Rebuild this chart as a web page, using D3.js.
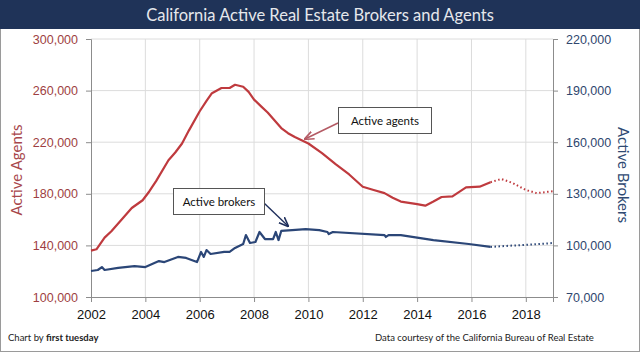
<!DOCTYPE html>
<html>
<head>
<meta charset="utf-8">
<script src="https://cdn.jsdelivr.net/npm/d3@7"></script>
<style>
  body { margin: 0; background: #fff; }
  svg { display: block; font-family: Lato, "Open Sans", sans-serif; }
</style>
</head>
<body>
<div id="chart"></div>
<script>
// Active agents, solid part (left axis)
const agentYears = [2002.0, 2002.2, 2002.5, 2002.75, 2003.0, 2003.25, 2003.5, 2003.9, 2004.15, 2004.4, 2004.85, 2005.1, 2005.35, 2005.6,
  2006.0, 2006.25, 2006.45, 2006.8, 2007.1, 2007.3, 2007.6, 2007.8, 2008.0, 2008.25, 2008.5, 2008.75, 2009.0, 2009.25, 2009.5, 2010.0, 2010.5,
  2011.0, 2011.5, 2012.0, 2012.4, 2012.8, 2013.1, 2013.4, 2014.0, 2014.3, 2014.6, 2014.9, 2015.3, 2015.8, 2016.3, 2016.7];
const agentValues = [136000, 137000, 146000, 151000, 157000, 163000, 169000, 175000, 182000, 190000, 206000, 212000, 219000, 229000,
  244000, 252000, 258000, 262000, 262000, 264500, 263000, 259000, 253000, 248000, 243000, 237000, 231000, 227000, 224000, 219000, 211500,
  203000, 195000, 185500, 183000, 180500, 177000, 174000, 172000, 170800, 174000, 177500, 178000, 185000, 185500, 189000];
// Active agents, projection (dotted)
const agentProjYears = [2016.7, 2017.1, 2017.5, 2018.0, 2018.4, 2018.8, 2019.0];
const agentProjValues = [189000, 191500, 188500, 183000, 180500, 181500, 182000];

// Active brokers, solid part (right axis)
const brokerYears = [2002.0, 2002.25, 2002.4, 2002.5, 2003.0, 2003.6, 2004.0, 2004.5, 2004.7, 2005.2,
  2005.5, 2005.7, 2005.9, 2006.05, 2006.15, 2006.25, 2006.4, 2006.9, 2007.1, 2007.3, 2007.6, 2007.7,
  2007.85, 2008.05, 2008.2, 2008.4, 2008.7, 2008.8, 2008.9, 2009.0, 2009.4, 2009.9, 2010.4, 2010.7,
  2010.75, 2010.9, 2012.8, 2012.85, 2012.95, 2013.4, 2014.6, 2015.9, 2016.7];
const brokerValues = [85100, 85700, 87400, 85700, 86900, 88000, 87400, 90900, 90300, 93300,
  92700, 91500, 90300, 96200, 93300, 97300, 95000, 96200, 96200, 98500, 100800, 106000,
  101400, 102000, 107800, 103700, 103700, 107800, 103100, 108400, 108900, 109500, 108900, 107800,
  106600, 107800, 106000, 104900, 106000, 106000, 103100, 100800, 99100];
const brokerProjYears = [2016.7, 2017.3, 2018.5, 2019.0];
const brokerProjValues = [99100, 99700, 100800, 101400];

const yearTicks = [2002, 2004, 2006, 2008, 2010, 2012, 2014, 2016, 2018];
const agentTicks = [100000, 140000, 180000, 220000, 260000, 300000];
const brokerTicks = [70000, 100000, 130000, 160000, 190000, 220000];

const W = 640, H = 352;
const margin = {top: 39, right: 87, bottom: 55, left: 91};
const iw = W - margin.left - margin.right, ih = H - margin.top - margin.bottom;

const red = "#bf3a3e", blue = "#2b4677";

const svg = d3.select("#chart").append("svg").attr("width", W).attr("height", H);

// frame + title bar
svg.append("rect").attr("x", 0.5).attr("y", 0.5).attr("width", W - 1).attr("height", H - 1)
  .attr("fill", "#fff").attr("stroke", "#9a9a9a");
svg.append("rect").attr("x", 0).attr("y", 0).attr("width", W).attr("height", 29).attr("fill", "#1f3358");
svg.append("text").attr("x", W / 2).attr("y", 20.5).attr("text-anchor", "middle")
  .attr("fill", "#e6e8ec").style("font-size", "16.5px").text("California Active Real Estate Brokers and Agents");

const x = d3.scaleLinear().domain([2002, 2019]).range([0, iw]);
const yL = d3.scaleLinear().domain([100000, 300000]).range([ih, 0]);
const yR = d3.scaleLinear().domain([70000, 220000]).range([ih, 0]);

const g = svg.append("g").attr("transform", `translate(${margin.left},${margin.top})`);

// grid
g.append("g").selectAll("line").data(agentTicks.slice(1)).join("line")
  .attr("x1", 0).attr("x2", iw).attr("y1", d => yL(d)).attr("y2", d => yL(d))
  .attr("stroke", "#dcdcdc");
g.append("g").selectAll("line").data(yearTicks.slice(1)).join("line")
  .attr("y1", 0).attr("y2", ih).attr("x1", d => x(d)).attr("x2", d => x(d))
  .attr("stroke", "#dcdcdc");

const fmt = d3.format(",");

const axL = g.append("g").call(d3.axisLeft(yL).tickValues(agentTicks).tickFormat(fmt).tickSize(5).tickPadding(8));
axL.selectAll("text").attr("fill", "#9e3f42").style("font-size", "12.5px");

const axR = g.append("g").attr("transform", `translate(${iw},0)`)
  .call(d3.axisRight(yR).tickValues(brokerTicks).tickFormat(fmt).tickSize(5).tickPadding(8));
axR.selectAll("text").attr("fill", "#2f466e").style("font-size", "12.5px");

const axB = g.append("g").attr("transform", `translate(0,${ih})`)
  .call(d3.axisBottom(x).tickValues(yearTicks).tickFormat(d3.format("d")).tickSize(5).tickPadding(8));
axB.selectAll("text").attr("fill", "#111").style("font-size", "13px");

[axL, axR, axB].forEach(a => {
  a.selectAll(".domain").attr("stroke", "#8c8c8c");
  a.selectAll(".tick line").attr("stroke", "#8c8c8c");
});

// axis titles
svg.append("text").attr("transform", "translate(22,170) rotate(-90)").attr("text-anchor", "middle")
  .attr("fill", "#a8474b").style("font-size", "15px").text("Active Agents");
svg.append("text").attr("transform", "translate(618,175) rotate(90)").attr("text-anchor", "middle")
  .attr("fill", "#2f4a72").style("font-size", "15px").text("Active Brokers");

const lineL = d3.line().x(d => x(d[0])).y(d => yL(d[1]));
const lineR = d3.line().x(d => x(d[0])).y(d => yR(d[1]));

g.append("path").datum(d3.zip(agentProjYears, agentProjValues)).attr("d", lineL)
  .attr("fill", "none").attr("stroke", red).attr("stroke-width", 2).attr("stroke-dasharray", "1.5,2.5");
g.append("path").datum(d3.zip(brokerProjYears, brokerProjValues)).attr("d", lineR)
  .attr("fill", "none").attr("stroke", blue).attr("stroke-width", 2).attr("stroke-dasharray", "1.5,2.5");
g.append("path").datum(d3.zip(agentYears, agentValues)).attr("d", lineL)
  .attr("fill", "none").attr("stroke", red).attr("stroke-width", 2.2).attr("stroke-linejoin", "round");
g.append("path").datum(d3.zip(brokerYears, brokerValues)).attr("d", lineR)
  .attr("fill", "none").attr("stroke", blue).attr("stroke-width", 2.2).attr("stroke-linejoin", "round");

// callouts
const defs = svg.append("defs");
[["arrRed", "#b45a64"], ["arrBlue", "#1f2f5c"]].forEach(([id, c]) => {
  defs.append("marker").attr("id", id).attr("viewBox", "0 0 10 10").attr("refX", 9).attr("refY", 5)
    .attr("markerWidth", 7).attr("markerHeight", 7).attr("orient", "auto")
    .append("path").attr("d", "M0,1 L10,5 L0,9").attr("fill", "none").attr("stroke", c).attr("stroke-width", 1.6);
});

function callout(bx, by, bw, bh, label, ax1, ay1, ax2, ay2, col, marker) {
  svg.append("line").attr("x1", ax1).attr("y1", ay1).attr("x2", ax2).attr("y2", ay2)
    .attr("stroke", col).attr("stroke-width", 1.4).attr("marker-end", `url(#${marker})`);
  svg.append("rect").attr("x", bx).attr("y", by).attr("width", bw).attr("height", bh)
    .attr("fill", "#fff").attr("stroke", "#555").attr("stroke-width", 1);
  svg.append("text").attr("x", bx + bw / 2).attr("y", by + bh / 2 + 4).attr("text-anchor", "middle")
    .attr("fill", "#111").style("font-size", "11.5px").text(label);
}
callout(338.5, 107.5, 93, 26, "Active agents", 338, 123, 305, 139, "#b45a64", "arrRed");
callout(173.5, 188.5, 91, 26, "Active brokers", 264, 203, 288, 226, "#1f2f5c", "arrBlue");

// footer
const foot = svg.append("text").attr("x", 8).attr("y", 341).attr("fill", "#222").style("font-size", "9.5px");
foot.append("tspan").text("Chart by ");
foot.append("tspan").attr("font-weight", "bold").text("first tuesday");
svg.append("text").attr("x", 375).attr("y", 341).attr("fill", "#222").style("font-size", "9.5px")
  .text("Data courtesy of the California Bureau of Real Estate");
</script>
</body>
</html>
